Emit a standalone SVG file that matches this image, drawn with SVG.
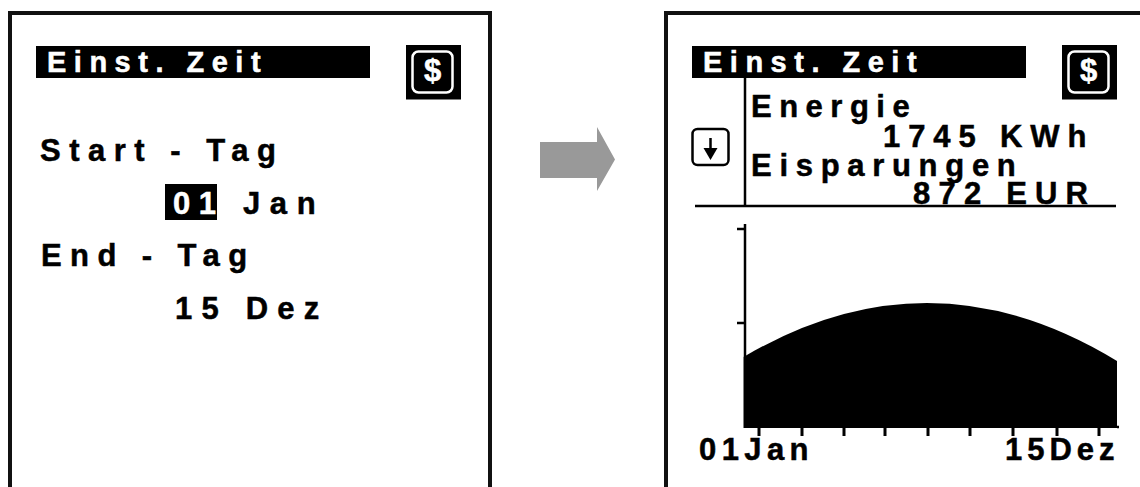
<svg xmlns="http://www.w3.org/2000/svg" width="1140" height="487" viewBox="0 0 1140 487">
<style>
text{font-family:"Liberation Sans",Arial,sans-serif;font-weight:700;font-size:31px;fill:#000;stroke:#000;stroke-width:.5px}
text.w{fill:#fff;stroke:#fff}
.t{font-size:29px;letter-spacing:7.5px}
.f{fill:none;stroke:#111;stroke-width:4}
.l{stroke:#000;stroke-width:2.5;fill:none}
</style>
<defs>
<g id="header">
<rect x="36" y="46" width="334" height="32" fill="#000"/>
<text class="w t" x="47" y="72">Einst. Zeit</text>
<rect x="406" y="45" width="55" height="54.500" fill="#000"/>
<rect x="412.500" y="51.500" width="40" height="41" rx="6" fill="none" stroke="#fff" stroke-width="2.500"/>
<text class="w" x="432.500" y="81" text-anchor="middle">$</text>
</g>
</defs>
<g id="left-screen">
<path class="f" d="M10 487V13H490V487"/>
<use href="#header"/>
<text x="40" y="161" letter-spacing="8.500">Start - Tag</text>
<rect x="165" y="184" width="52" height="36" fill="#000"/>
<text class="w" x="173" y="214" letter-spacing="8.500">01</text>
<text x="243" y="214" letter-spacing="9.600">Jan</text>
<text x="41" y="266" letter-spacing="8.400">End - Tag</text>
<text x="175" y="319" letter-spacing="9.200">15 Dez</text>
</g>
<g id="connectors">
<path id="arrow" d="M540 142H597V127L615 159.500L597 191V178H540Z" fill="#999"/>
</g>
<g id="right-screen">
<path class="f" d="M666 487V13H1140"/>
<use href="#header" x="656"/>
<path class="l" d="M745 78V206M695 206H1116"/>
<rect x="692.500" y="129" width="36" height="36" rx="5" fill="none" stroke="#000" stroke-width="2.500"/>
<path d="M710.500 138V150" stroke="#000" stroke-width="2.500"/>
<path d="M703.500 148H717.500L710.500 160Z" fill="#000"/>
<text x="751" y="117" letter-spacing="7.500">Energie</text>
<text x="883" y="147" letter-spacing="7.900">1745 KWh</text>
<text x="751" y="176" letter-spacing="7.700">Eisparungen</text>
<text x="913" y="204" letter-spacing="8.200">872 EUR</text>
</g>
<g id="chart">
<path d="M745 224V357" class="l"/>
<path d="M737 229H745M737 323H745" class="l"/>
<path d="M743.500 357Q930 247 1117 361V428H743.500Z" fill="#000"/>
<path d="M1117 427H1119" class="l"/>
<path d="M759 428v8M802 428v8M844 428v8M885 428v8M928 428v8M970 428v8M1013 428v8M1057 428v8M1099 428v8" stroke="#000" stroke-width="3"/>
<text x="699" y="460" letter-spacing="5.400">01Jan</text>
<text x="1005" y="460" letter-spacing="5">15Dez</text>
</g>
</svg>
